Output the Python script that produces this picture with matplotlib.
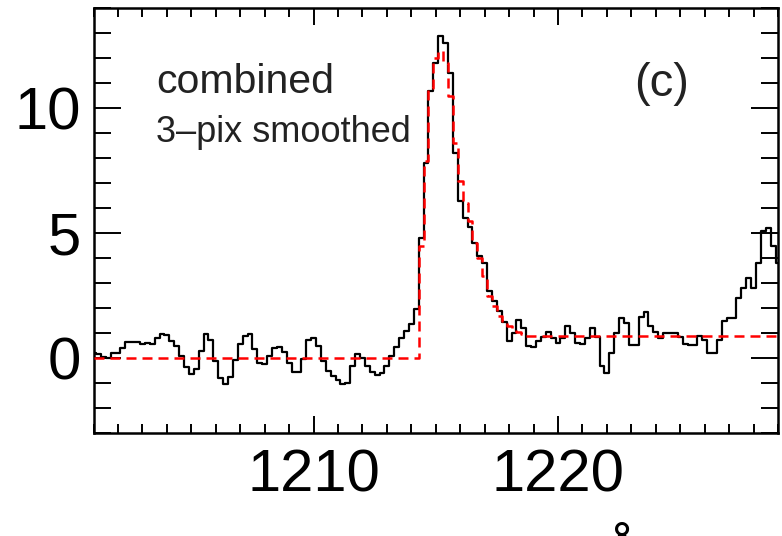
import numpy as np
import matplotlib
matplotlib.use("Agg")
import matplotlib.pyplot as plt
from matplotlib.ticker import MultipleLocator

plt.rcParams['font.family'] = ['Liberation Sans', 'DejaVu Sans']

# wavelength grid (Angstrom), 0.2 A bins
wavelength = np.round(np.arange(1201.0, 1229.0001, 0.2), 1)

# observed combined, 3-pix smoothed flux
flux = [
    0.19, 0.15, 0.05, 0.00, 0.19, 0.19, 0.40, 0.63, 0.63, 0.63,   # 1201.0-1202.8
    0.56, 0.60, 0.58, 0.79, 0.96, 0.92, 0.70, 0.48, 0.10, -0.35,  # 1203.0-1204.8
    -0.65, -0.45, 0.30, 0.95, 0.72, -0.10, -0.80, -1.05, -0.75, -0.08,  # 1205.0-1206.8
    0.55, 0.90, 0.95, 0.35, -0.20, -0.25, 0.10, 0.42, 0.45, 0.25,  # 1207.0-1208.8
    -0.20, -0.55, -0.55, -0.05, 0.72, 0.80, 0.50, -0.10, -0.50, -0.72,  # 1209.0-1210.8
    -0.88, -1.05, -1.00, -0.30, 0.16, 0.00, -0.30, -0.55, -0.68, -0.60,  # 1211.0-1212.8
    -0.30, 0.10, 0.45, 0.80, 1.10, 1.35, 1.95, 4.80, 7.80, 10.70,  # 1213.0-1214.8
    11.80, 12.90, 12.60, 11.40, 8.20, 6.30, 5.60, 5.25, 4.60, 4.10,  # 1215.0-1216.8
    3.80, 2.70, 2.30, 1.90, 1.45, 0.70, 1.00, 1.52, 1.20, 0.50,  # 1217.0-1218.8
    0.45, 0.70, 0.85, 1.05, 0.80, 0.60, 0.80, 1.30, 1.00, 0.60,  # 1219.0-1220.8
    0.55, 0.80, 1.20, 0.85, -0.30, -0.60, 0.20, 1.00, 1.60, 1.40,  # 1221.0-1222.8
    0.52, 0.52, 1.65, 1.85, 1.30, 1.05, 0.80, 1.00, 1.00, 1.00,  # 1223.0-1224.8
    0.85, 0.55, 0.52, 0.52, 0.90, 0.72, 0.19, 0.19, 0.72, 1.50,  # 1225.0-1226.8
    1.60, 1.60, 2.40, 2.80, 3.20, 2.80, 3.80, 5.10, 5.20, 4.50,  # 1227.0-1228.8
    3.80,                                                           # 1229.0
]

# fitted model profile (red dashed)
model = [0.0] * 67 + [
    4.50, 7.90, 10.80, 12.00, 12.30, 11.80, 10.50, 8.60, 7.10, 6.20,  # 1214.4-1216.2
    5.50, 4.60, 4.00, 3.30, 2.50, 2.10, 1.70, 1.50, 1.30, 1.20,  # 1216.4-1218.2
    1.05, 0.95, 0.90,                                              # 1218.4-1218.8
] + [0.88] * 51

x_ticks = [1210, 1220]
y_ticks = [0, 5, 10]
annot_lines = ["combined", "3\u2013pix smoothed"]
panel_label = "(c)"

fig = plt.figure(figsize=(7.82, 5.36), dpi=100)
ax = fig.add_axes([93.5 / 782, (536 - 433) / 536, (778 - 93.5) / 782, (433 - 8) / 536])

ax.plot(wavelength, flux, drawstyle='steps-mid', color='black', lw=1.6, zorder=2)
ax.plot(wavelength, model, drawstyle='steps-mid', color='#ff0000', lw=1.8,
        dashes=(4.0, 2.4), zorder=3)

ax.set_xlim(1201, 1229)
ax.set_ylim(-3, 14)

ax.set_xticks(x_ticks)
ax.set_yticks(y_ticks)
ax.xaxis.set_minor_locator(MultipleLocator(1))
ax.yaxis.set_minor_locator(MultipleLocator(1))

ax.tick_params(axis='both', which='both', direction='in', top=True, right=True,
               width=1.4, labelsize=43, colors='black')
ax.tick_params(axis='x', which='major', length=12.2, pad=11)
ax.tick_params(axis='x', which='minor', length=6.5)
ax.tick_params(axis='y', which='major', length=19.4, pad=9)
ax.tick_params(axis='y', which='minor', length=12.2)
ax.tick_params(axis='both', which='minor', labelbottom=False, labelleft=False)

for s in ax.spines.values():
    s.set_linewidth(1.8)

ax.text(1203.55, 10.6, annot_lines[0], fontsize=29.5, color='#222222', ha='left', va='baseline')
ax.text(1203.55, 8.65, annot_lines[1], fontsize=26, color='#222222', ha='left', va='baseline')
ax.text(1223.1, 10.5, panel_label, fontsize=34, color='#222222', ha='left', va='baseline')

# x-axis unit symbol, mostly cut off at the bottom edge
fig.text(622 / 782, -0.071, "\u00c5", fontsize=43, ha='center', va='baseline', color='black')

fig.savefig("out.png", dpi=100)
